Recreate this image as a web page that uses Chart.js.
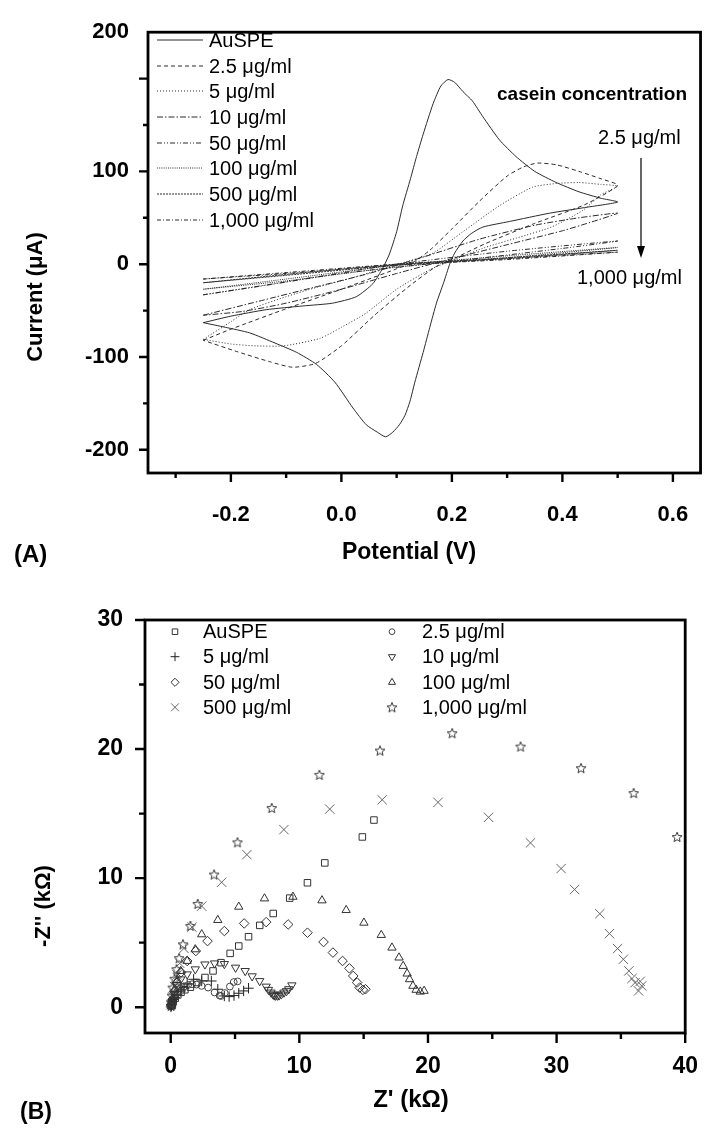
<!DOCTYPE html>
<html>
<head>
<meta charset="utf-8">
<script src="https://cdn.jsdelivr.net/npm/chart.js@4.4.1/dist/chart.umd.min.js"></script>
<style>
  html, body { margin: 0; padding: 0; background: #fff; }
  #wrapA { position: absolute; left: 0; top: 0; width: 718px; height: 580px; }
  #wrapB { position: absolute; left: 0; top: 580px; width: 718px; height: 551px; }
</style>
</head>
<body>
<div id="wrapA"><canvas id="cvChart"></canvas></div>
<div id="wrapB"><canvas id="eisChart"></canvas></div>
<script>
const FONT = "'Liberation Sans', Arial, Helvetica, sans-serif";

// ---------- (A) cyclic voltammograms: potential (V) / current (uA) ----------
const cvLabels = ['AuSPE', '2.5 μg/ml', '5 μg/ml', '10 μg/ml', '50 μg/ml', '100 μg/ml', '500 μg/ml', '1,000 μg/ml'];

const ausPot = [-0.25, -0.2, -0.136, -0.07, -0.016, 0.027, 0.057, 0.075, 0.087, 0.1, 0.111, 0.125, 0.136, 0.148, 0.166, 0.18, 0.193, 0.205, 0.22, 0.237, 0.256, 0.286, 0.316, 0.35, 0.389, 0.43, 0.47, 0.5,
  0.44, 0.377, 0.304, 0.256, 0.235, 0.22, 0.205, 0.196, 0.185, 0.172, 0.16, 0.148, 0.133, 0.124, 0.115, 0.105, 0.093, 0.08, 0.065, 0.045, 0.021, -0.012, -0.045, -0.081, -0.12, -0.166, -0.21, -0.25];
const ausCur = [-63, -56, -49, -45, -42, -35, -21, -4, 11, 35, 63, 92, 116, 140, 173, 192, 199, 196, 186, 176, 159, 134, 116, 100, 88, 78, 71, 67,
  61, 55, 46, 40, 33, 25, 12, 0, -20, -42, -68, -95, -127, -148, -163, -173, -181, -186, -181, -173, -155, -127, -108, -95, -85, -74, -68, -63];

const c25Pot = [-0.25, -0.2, -0.1, 0.0, 0.05, 0.1, 0.13, 0.16, 0.2, 0.25, 0.3, 0.33, 0.355, 0.39, 0.43, 0.47, 0.5,
  0.44, 0.35, 0.26, 0.2, 0.17, 0.12, 0.06, 0.0, -0.047, -0.089, -0.13, -0.19, -0.25];
const c25Cur = [-82, -70, -48, -27, -16, -5, 2, 15, 38, 68, 95, 105, 109, 107, 100, 92, 85,
  64, 44, 22, 5, -3, -25, -55, -88, -107, -111, -105, -94, -82];

const c5Pot = [-0.25, -0.2, -0.166, -0.1, -0.045, 0.0, 0.075, 0.12, 0.166, 0.22, 0.286, 0.346, 0.39, 0.43, 0.47, 0.5,
  0.47, 0.437, 0.38, 0.316, 0.26, 0.213, 0.16, 0.1, 0.044, 0.0, -0.039, -0.105, -0.155, -0.2, -0.25];
const c5Cur = [-81, -62, -49, -35, -25, -18, -5, 3, 12, 35, 63, 83, 87, 88, 86, 84,
  75, 58, 40, 28, 18, 7, -6, -27, -53, -68, -80, -88, -88, -86, -81];

const c10Pot = [-0.25, -0.15, -0.05, 0.05, 0.15, 0.25, 0.35, 0.43, 0.5, 0.45, 0.4, 0.3, 0.2, 0.1, 0.0, -0.1, -0.18, -0.25];
const c10Cur = [-55, -40, -25, -10, 8, 27, 42, 50, 55, 45, 36, 21, 6, -10, -27, -42, -51, -55];

const c50Pot = [-0.25, -0.1, 0.1, 0.3, 0.5, 0.4, 0.2, 0.0, -0.15, -0.25];
const c50Cur = [-33, -19, 0, 14, 25, 17, 3, -10, -24, -33];

const c100Pot = [-0.25, -0.1, 0.1, 0.3, 0.5, 0.3, 0.1, -0.1, -0.25];
const c100Cur = [-27, -16, -1, 9, 18, 7, -3, -18, -27];

const c500Pot = [-0.25, -0.1, 0.1, 0.3, 0.5, 0.3, 0.1, -0.1, -0.25];
const c500Cur = [-20, -11, 0, 7, 15, 6, -1, -12, -20];

const c1000Pot = [-0.25, -0.1, 0.1, 0.3, 0.5, 0.3, 0.1, -0.1, -0.25];
const c1000Cur = [-16, -9, 0, 6, 13, 5, -1, -10, -16];

const cvPot = [ausPot, c25Pot, c5Pot, c10Pot, c50Pot, c100Pot, c500Pot, c1000Pot];
const cvCur = [ausCur, c25Cur, c5Cur, c10Cur, c50Cur, c100Cur, c500Cur, c1000Cur];
const cvDash = [[], [4, 3], [1, 2], [6, 2, 1.5, 2], [5, 2, 1, 2, 1, 2], [1, 1.2], [2, 1], [4, 2, 1, 2]];

const cvXTicks = [-0.3, -0.2, -0.1, 0, 0.1, 0.2, 0.3, 0.4, 0.5, 0.6];
const cvXLabelVals = [-0.2, 0, 0.2, 0.4, 0.6];
const cvXLabels = ['-0.2', '0.0', '0.2', '0.4', '0.6'];
const cvYLabelVals = [250, 100, 0, -100, -200];
const cvYLabels = ['200', '100', '0', '-100', '-200'];
const cvXMajor = [-0.2, 0, 0.2, 0.4, 0.6], cvXMinor = [-0.3, -0.1, 0.1, 0.3, 0.5];
const cvYMajor = [200, 100, 0, -100, -200], cvYMinor = [150, 50, -50, -150];

// ---------- (B) Nyquist plots: Z' / -Z'' (kOhm) ----------
const eisLabels = ['AuSPE', '2.5 μg/ml', '5 μg/ml', '10 μg/ml', '50 μg/ml', '100 μg/ml', '500 μg/ml', '1,000 μg/ml'];

const ausRe = [0.05, 0.1, 0.2, 0.35, 0.55, 0.8, 1.1, 1.53, 2.03, 2.66, 3.29, 3.91, 4.62, 5.29, 6.05, 6.92, 7.97, 9.25, 10.63, 11.98, 14.9, 15.8];
const ausIm = [0.1, 0.25, 0.45, 0.7, 0.95, 1.15, 1.35, 1.55, 1.91, 2.3, 2.81, 3.45, 4.17, 4.74, 5.46, 6.34, 7.26, 8.45, 9.64, 11.18, 13.19, 14.5];

const c25Re = [0.02, 0.08, 0.18, 0.3, 0.5, 0.75, 1.03, 1.35, 1.65, 2.0, 2.4, 2.91, 3.41, 3.8, 3.91, 4.2, 4.6, 4.9, 5.2];
const c25Im = [0.05, 0.3, 0.6, 0.9, 1.2, 1.45, 1.6, 1.72, 1.78, 1.75, 1.65, 1.52, 1.14, 0.9, 0.87, 1.1, 1.6, 1.95, 2.0];

const c5Re = [0.02, 0.05, 0.1, 0.2, 0.3, 0.5, 0.78, 1.03, 1.28, 1.78, 2.41, 3.16, 3.66, 4.17, 4.54, 4.92, 5.29, 5.67, 6.05];
const c5Im = [0.02, 0.2, 0.4, 0.6, 0.75, 1.0, 1.26, 1.52, 1.8, 2.16, 2.03, 2.03, 1.39, 0.87, 0.82, 0.9, 1.08, 1.26, 1.47];

const c10Re = [0.05, 0.15, 0.3, 0.5, 0.78, 1.28, 1.91, 2.66, 3.41, 4.17, 5.04, 5.79, 6.33, 6.92, 7.42, 7.6, 7.8, 7.95, 8.05, 8.15, 8.3, 8.42, 8.6, 8.8, 9.0, 9.17, 9.42];
const c10Im = [0.1, 0.5, 1.0, 1.6, 2.16, 2.55, 2.94, 3.32, 3.4, 3.35, 3.07, 2.81, 2.4, 2.03, 1.6, 1.35, 1.14, 1.0, 0.92, 0.9, 0.9, 0.92, 1.0, 1.14, 1.25, 1.4, 1.7];

const c50Re = [0.05, 0.15, 0.3, 0.5, 0.8, 1.28, 1.95, 2.86, 4.17, 5.71, 7.42, 9.13, 10.63, 11.88, 12.61, 13.36, 13.89, 14.19, 14.49, 14.69, 14.94, 15.14];
const c50Im = [0.1, 0.6, 1.2, 1.9, 2.7, 3.58, 4.35, 5.12, 5.9, 6.49, 6.59, 6.41, 5.77, 5.05, 4.23, 3.58, 3.01, 2.42, 1.91, 1.52, 1.34, 1.39];

const c100Re = [0.05, 0.15, 0.3, 0.5, 0.78, 1.28, 1.91, 2.41, 3.66, 5.29, 7.29, 9.5, 11.76, 13.64, 15.02, 16.37, 17.2, 17.75, 18.07, 18.38, 18.57, 18.83, 19.08, 19.4, 19.7];
const c100Im = [0.1, 0.7, 1.4, 2.1, 2.8, 3.58, 4.48, 5.64, 6.75, 7.78, 8.42, 8.55, 8.27, 7.52, 6.54, 5.59, 4.61, 3.84, 3.19, 2.6, 2.16, 1.65, 1.34, 1.2, 1.26];

const c500Re = [0.05, 0.15, 0.3, 0.5, 0.7, 1.03, 1.65, 2.41, 3.96, 5.92, 8.8, 12.36, 16.44, 20.78, 24.71, 27.97, 30.35, 31.4, 33.36, 34.11, 34.74, 35.19, 35.62, 35.86, 36.1, 36.37, 36.62, 36.5];
const c500Im = [0.2, 0.8, 1.6, 2.5, 3.4, 4.56, 6.2, 7.83, 9.68, 11.82, 13.76, 15.35, 16.07, 15.87, 14.71, 12.73, 10.74, 9.12, 7.24, 5.7, 4.54, 3.71, 2.81, 2.22, 1.9, 1.26, 1.65, 2.0];

const c1000Re = [0.03, 0.05, 0.1, 0.15, 0.3, 0.45, 0.65, 0.95, 1.53, 2.1, 3.37, 5.19, 7.85, 11.56, 16.27, 21.88, 27.2, 31.9, 35.99, 39.37];
const c1000Im = [0.1, 0.4, 0.9, 1.52, 2.2, 2.94, 3.8, 4.87, 6.3, 8.0, 10.28, 12.77, 15.43, 18.0, 19.88, 21.23, 20.19, 18.52, 16.59, 13.19];

const eisRe = [ausRe, c25Re, c5Re, c10Re, c50Re, c100Re, c500Re, c1000Re];
const eisIm = [ausIm, c25Im, c5Im, c10Im, c50Im, c100Im, c500Im, c1000Im];

const eisXTicks = [0, 5, 10, 15, 20, 25, 30, 35, 40];
const eisXLabelVals = [0, 10, 20, 30, 40];
const eisXLabels = ['0', '10', '20', '30', '40'];
const eisYTicks = [0, 5, 10, 15, 20, 25, 30];
const eisYLabelVals = [0, 10, 20, 30];
const eisYLabels = ['0', '10', '20', '30'];
const eisXMajor = [0, 10, 20, 30, 40], eisXMinor = [5, 15, 25, 35];
const eisYMajor = [0, 10, 20, 30], eisYMinor = [5, 15, 25];

// open five-point star used as marker for 1,000 ug/ml
function starMarker() {
  const c = document.createElement('canvas');
  c.width = 12; c.height = 12;
  const g = c.getContext('2d');
  g.strokeStyle = '#222'; g.lineWidth = 0.9;
  g.beginPath();
  for (let k = 0; k < 10; k++) {
    const r = k % 2 ? 2.3 : 5.2;
    const a = -Math.PI / 2 + k * Math.PI / 5;
    const px = 6 + r * Math.cos(a), py = 6.4 + r * Math.sin(a);
    k ? g.lineTo(px, py) : g.moveTo(px, py);
  }
  g.closePath(); g.stroke();
  return c;
}
const eisMarks = [
  { pointStyle: 'rect', radius: 4.6, rotation: 0, color: '#333' },
  { pointStyle: 'circle', radius: 3.4, rotation: 0, color: '#444' },
  { pointStyle: 'cross', radius: 5.2, rotation: 0, color: '#222' },
  { pointStyle: 'triangle', radius: 4.8, rotation: 180, color: '#333' },
  { pointStyle: 'rectRot', radius: 4.8, rotation: 0, color: '#333' },
  { pointStyle: 'triangle', radius: 4.8, rotation: 0, color: '#333' },
  { pointStyle: 'crossRot', radius: 6.6, rotation: 0, color: '#666' },
  { pointStyle: starMarker(), radius: 5, rotation: 0, color: '#222' }
];

function labelFor(vals, labels) {
  return v => {
    const k = vals.findIndex(t => Math.abs(t - v) < 1e-9);
    return k < 0 ? '' : labels[k];
  };
}

function linearAxis(o) {
  return {
    type: 'linear', min: o.min, max: o.max,
    grid: { display: false, drawTicks: false },
    border: { display: false },
    afterBuildTicks: s => { s.ticks = o.vals.map(v => ({ value: v })); },
    afterFit: s => { if (o.width) s.width = o.width; if (o.height) s.height = o.height; },
    ticks: {
      autoSkip: false, maxRotation: 0, minRotation: 0, padding: o.pad, color: '#000',
      font: { family: FONT, size: o.size, weight: 'bold' },
      callback: labelFor(o.labelVals, o.labels)
    }
  };
}

function drawFrameAndTicks(chart, t) {
  const ctx = chart.ctx, a = chart.chartArea, sx = chart.scales.x, sy = chart.scales.y;
  ctx.strokeStyle = '#000';
  ctx.lineWidth = 2.4;
  ctx.beginPath();
  t.xMajor.forEach(v => { const p = sx.getPixelForValue(v); ctx.moveTo(p, a.bottom); ctx.lineTo(p, a.bottom + t.major); });
  t.xMinor.forEach(v => { const p = sx.getPixelForValue(v); ctx.moveTo(p, a.bottom); ctx.lineTo(p, a.bottom + t.minor); });
  t.yMajor.forEach(v => { const p = sy.getPixelForValue(v); ctx.moveTo(a.left, p); ctx.lineTo(a.left - t.major, p); });
  t.yMinor.forEach(v => { const p = sy.getPixelForValue(v); ctx.moveTo(a.left, p); ctx.lineTo(a.left - t.minor, p); });
  ctx.stroke();
  ctx.lineWidth = 2.8;
  ctx.strokeRect(a.left, a.top, a.right - a.left, a.bottom - a.top);
}

function text(ctx, s, x, y, size, bold, align) {
  ctx.font = (bold ? 'bold ' : '') + size + 'px ' + FONT;
  ctx.textAlign = align || 'left';
  ctx.textBaseline = 'middle';
  ctx.fillStyle = '#000';
  ctx.fillText(s, x, y);
}

function vText(ctx, s, x, y, size) {
  ctx.save();
  ctx.translate(x, y);
  ctx.rotate(-Math.PI / 2);
  text(ctx, s, 0, 0, size, true, 'center');
  ctx.restore();
}

// ---------- chart A ----------
const decorA = {
  id: 'decorA',
  afterDraw(chart) {
    const ctx = chart.ctx;
    ctx.save();
    drawFrameAndTicks(chart, { xMajor: cvXMajor, xMinor: cvXMinor, yMajor: cvYMajor, yMinor: cvYMinor, major: 9, minor: 5 });
    vText(ctx, 'Current (μA)', 36, 297, 22);
    text(ctx, 'Potential (V)', 409, 553, 23, true, 'center');
    text(ctx, '(A)', 14, 555, 24, true);
    // legend
    const rows = [40, 66, 91, 117, 143, 168, 194, 220];
    chart.data.datasets.forEach((d, k) => {
      ctx.strokeStyle = d.borderColor; ctx.lineWidth = 1;
      ctx.setLineDash(d.borderDash);
      ctx.beginPath(); ctx.moveTo(157, rows[k]); ctx.lineTo(203, rows[k]); ctx.stroke();
      ctx.setLineDash([]);
      text(ctx, d.label, 209, rows[k] + 1, 20, false);
    });
    // concentration annotation
    text(ctx, 'casein concentration', 497, 95, 19, true);
    text(ctx, '2.5 μg/ml', 598, 138, 20, false);
    text(ctx, '1,000 μg/ml', 577, 278, 20, false);
    ctx.strokeStyle = '#000'; ctx.lineWidth = 1.2;
    ctx.beginPath(); ctx.moveTo(641, 158); ctx.lineTo(641, 248); ctx.stroke();
    ctx.fillStyle = '#000';
    ctx.beginPath(); ctx.moveTo(641, 258); ctx.lineTo(637, 246); ctx.lineTo(645, 246); ctx.closePath(); ctx.fill();
    ctx.restore();
  }
};

new Chart(document.getElementById('cvChart'), {
  type: 'scatter',
  data: {
    datasets: cvLabels.map((lab, k) => ({
      label: lab,
      data: cvPot[k].map((v, i) => ({ x: v, y: cvCur[k][i] })),
      showLine: true, pointRadius: 0, fill: false,
      borderColor: '#2a2a2a', borderWidth: 1, borderDash: cvDash[k], tension: 0.2
    }))
  },
  options: {
    responsive: true, maintainAspectRatio: false, animation: false,
    layout: { padding: { top: 24, right: 16, left: 0, bottom: 0 } },
    plugins: { legend: { display: false }, tooltip: { enabled: false } },
    scales: {
      x: linearAxis({ min: -0.35, max: 0.65, vals: cvXTicks, labelVals: cvXLabelVals, labels: cvXLabels, size: 22, pad: 29, height: 107 }),
      y: linearAxis({ min: -225, max: 250, vals: cvYLabelVals, labelVals: cvYLabelVals, labels: cvYLabels, size: 22, pad: 19, width: 148 })
    }
  },
  plugins: [decorA]
});

// ---------- chart B ----------
const decorB = {
  id: 'decorB',
  afterDraw(chart) {
    const ctx = chart.ctx;
    ctx.save();
    drawFrameAndTicks(chart, { xMajor: eisXMajor, xMinor: eisXMinor, yMajor: eisYMajor, yMinor: eisYMinor, major: 10, minor: 6 });
    vText(ctx, "-Z'' (kΩ)", 44, 326, 22);
    text(ctx, "Z' (kΩ)", 411, 520, 24, true, 'center');
    text(ctx, '(B)', 20, 533, 23, true);
    const rows = [51.7, 76.7, 102.3, 127.3];
    eisLabels.forEach((lab, k) => {
      const col = k % 2, row = Math.floor(k / 2);
      const mx = col ? 392 : 175, tx = col ? 422 : 203;
      const m = eisMarks[k];
      ctx.strokeStyle = m.color; ctx.fillStyle = 'rgba(0,0,0,0)'; ctx.lineWidth = 1;
      Chart.helpers.drawPoint(ctx, { pointStyle: m.pointStyle, radius: m.radius * 0.85, rotation: m.rotation, borderWidth: 1 }, mx, rows[row]);
      text(ctx, lab, tx, rows[row] + 1, 20, false);
    });
    ctx.restore();
  }
};

new Chart(document.getElementById('eisChart'), {
  type: 'scatter',
  data: {
    datasets: eisLabels.map((lab, k) => ({
      label: lab,
      data: eisRe[k].map((v, i) => ({ x: v, y: eisIm[k][i] })),
      showLine: false,
      pointStyle: eisMarks[k].pointStyle, pointRadius: eisMarks[k].radius, pointRotation: eisMarks[k].rotation,
      borderColor: eisMarks[k].color, backgroundColor: 'rgba(0,0,0,0)', borderWidth: 1
    }))
  },
  options: {
    responsive: true, maintainAspectRatio: false, animation: false,
    layout: { padding: { top: 40, right: 14, left: 0, bottom: 0 } },
    plugins: { legend: { display: false }, tooltip: { enabled: false } },
    scales: {
      x: linearAxis({ min: -2, max: 40, vals: eisXTicks, labelVals: eisXLabelVals, labels: eisXLabels, size: 23, pad: 20, height: 98 }),
      y: linearAxis({ min: -2, max: 30, vals: eisYTicks, labelVals: eisYLabelVals, labels: eisYLabels, size: 23, pad: 22, width: 145 })
    }
  },
  plugins: [decorB]
});
</script>
</body>
</html>
